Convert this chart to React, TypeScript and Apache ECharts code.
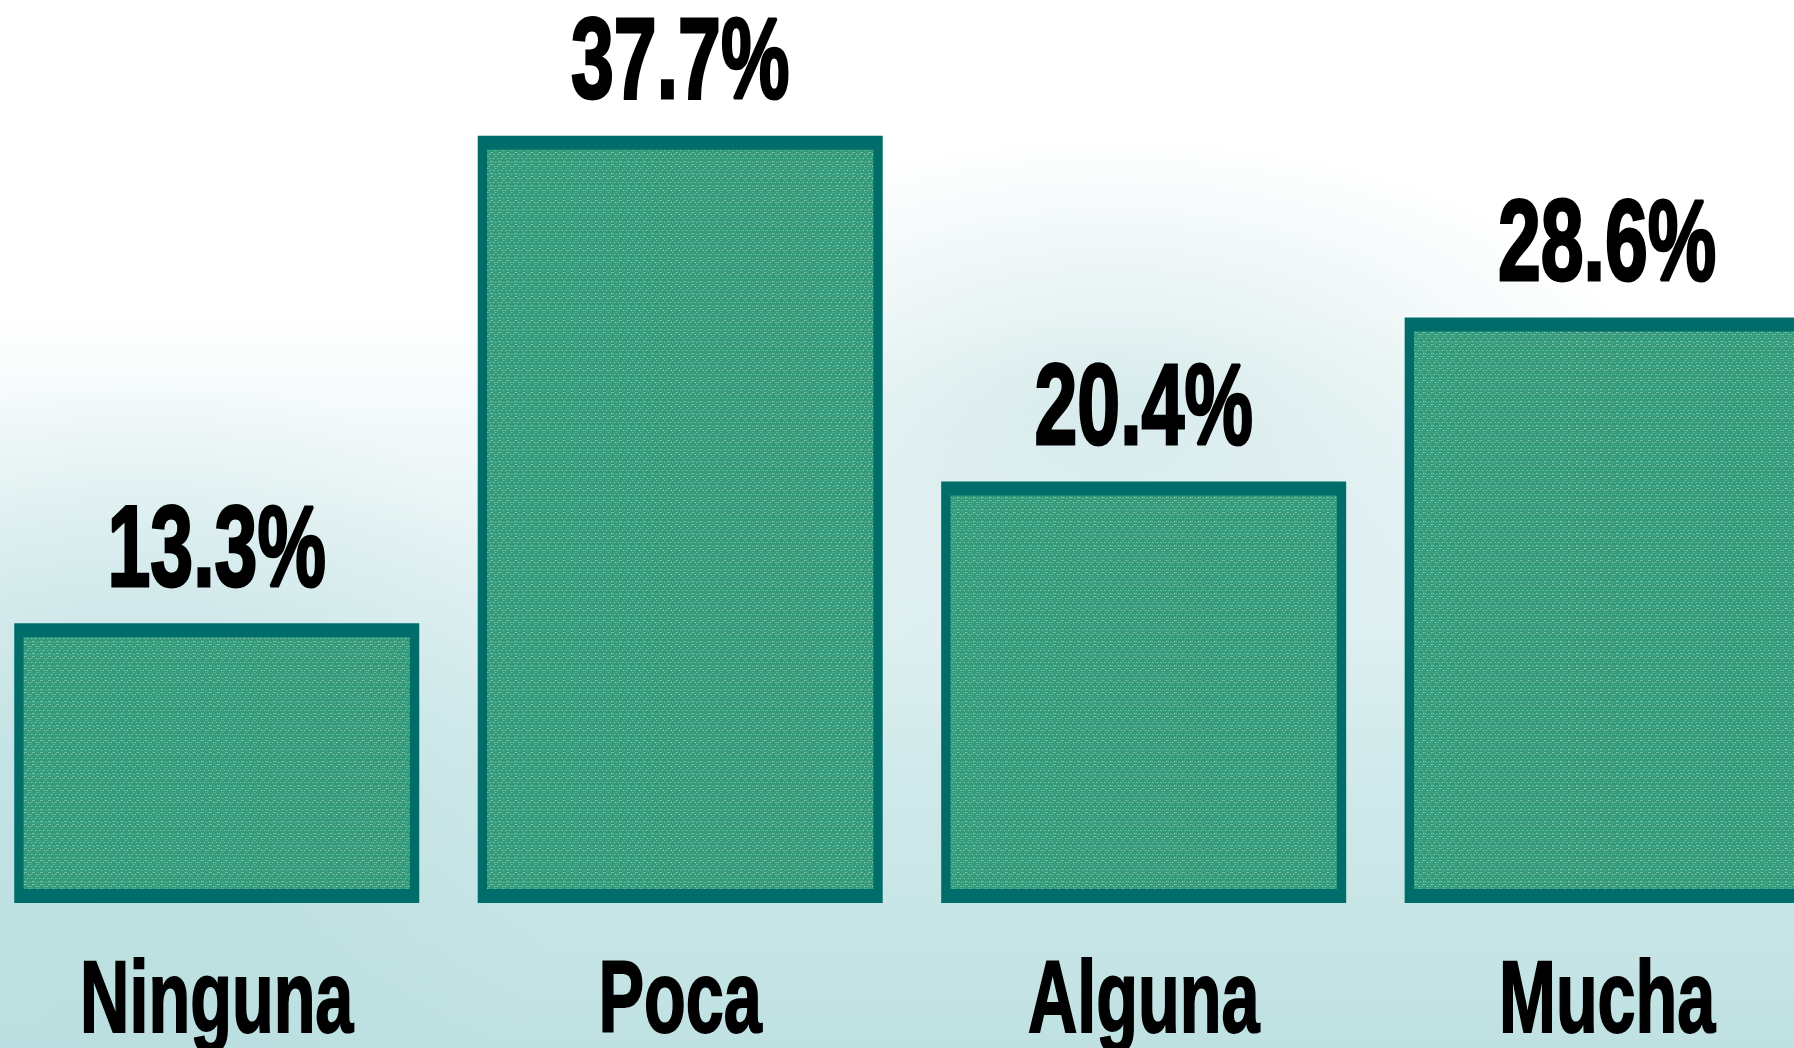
import React, { useEffect, useRef } from "react";
import * as echarts from "echarts";

const categories = ["Ninguna", "Poca", "Alguna", "Mucha"];
const values = [13.3, 37.7, 20.4, 28.6];
const labelSuffix = "%";

const SCALE_X = 0.67;
const W = 1794;
const H = 1048;
const CHART_W = 2767; // unscaled width: 4 categories
const OFFSET_X = -14.75;
const BAR_RATIO = 0.8536;
const FONT = "'Liberation Sans', Arial, sans-serif";

function makePattern(): string {
  const c = document.createElement("canvas");
  c.width = 12;
  c.height = 12;
  const ctx = c.getContext("2d")!;
  ctx.fillStyle = "#349c7b";
  ctx.fillRect(0, 0, 12, 12);
  ctx.fillStyle = "rgba(255,255,255,0.75)";
  const pts = [
    [6, 0], [3, 2], [9, 2], [1, 5], [11, 5], [1, 8], [11, 8], [4, 10], [8, 10], [6, 6],
  ];
  pts.forEach(([x, y]) => ctx.fillRect(x, y, 1, 1));
  return c.toDataURL();
}

export default function App() {
  const ref = useRef<HTMLDivElement>(null);
  useEffect(() => {
    if (!ref.current) return;
    const chart = echarts.init(ref.current, null, { renderer: "svg" });
    const pattern = makePattern();
    chart.setOption({
      animation: false,
      backgroundColor: "transparent",
      grid: { left: 0, right: 0, top: 96.8, bottom: 150, containLabel: false },
      xAxis: {
        type: "category",
        data: categories,
        axisLine: { show: false },
        axisTick: { show: false },
        axisLabel: {
          color: "#000",
          fontSize: 102,
          fontWeight: "bold",
          fontFamily: FONT,
          margin: 49,
          interval: 0,
          textBorderColor: "#000",
          textBorderWidth: 2,
        },
      },
      yAxis: {
        type: "value",
        min: 0,
        max: 40,
        show: false,
        splitLine: { show: false },
      },
      series: [
        {
          type: "custom",
          data: values.map((v, i) => [i, v]),
          encode: { x: 0, y: 1 },
          clip: false,
          renderItem: (params: any, api: any) => {
            const idx = api.value(0);
            const v = api.value(1);
            const pTop = api.coord([idx, v]);
            const pBase = api.coord([idx, 0]);
            const band = api.size([1, 0])[0];
            const w = band * BAR_RATIO;
            return {
              type: "rect",
              shape: {
                x: pTop[0] - w / 2,
                y: pTop[1],
                width: w,
                height: pBase[1] - pTop[1],
              },
              style: {
                fill: { image: pattern, repeat: "repeat" },
                stroke: "#006d6a",
                lineWidth: 14,
              },
              textContent: {
                style: {
                  text: v.toFixed(1) + labelSuffix,
                  fontSize: 115,
                  fontWeight: "bold",
                  fontFamily: FONT,
                  fill: "#000",
                  stroke: "#000",
                  lineWidth: 3,
                },
              },
              textConfig: { position: "top", distance: 20 },
            };
          },
        },
      ],
    });
    return () => chart.dispose();
  }, []);
  return (
    <div
      style={{
        position: "fixed",
        left: 0,
        top: 0,
        width: W,
        height: H,
        overflow: "hidden",
        background:
          "radial-gradient(ellipse 30% 25% at 62% 38%, rgba(190,222,224,0.55), rgba(255,255,255,0) 100%)," +
          "radial-gradient(ellipse 25% 40% at 8% 75%, rgba(170,214,217,0.5), rgba(255,255,255,0) 100%)," +
          "linear-gradient(180deg, #ffffff 0%, #ffffff 30%, #e8f4f5 50%, #d2eaeb 72%, #bfe1e2 100%)",
      }}
    >
      <div
        ref={ref}
        style={{
          position: "absolute",
          left: OFFSET_X,
          top: 0,
          width: CHART_W,
          height: H,
          transform: `scaleX(${SCALE_X})`,
          transformOrigin: "0 0",
        }}
      />
    </div>
  );
}
